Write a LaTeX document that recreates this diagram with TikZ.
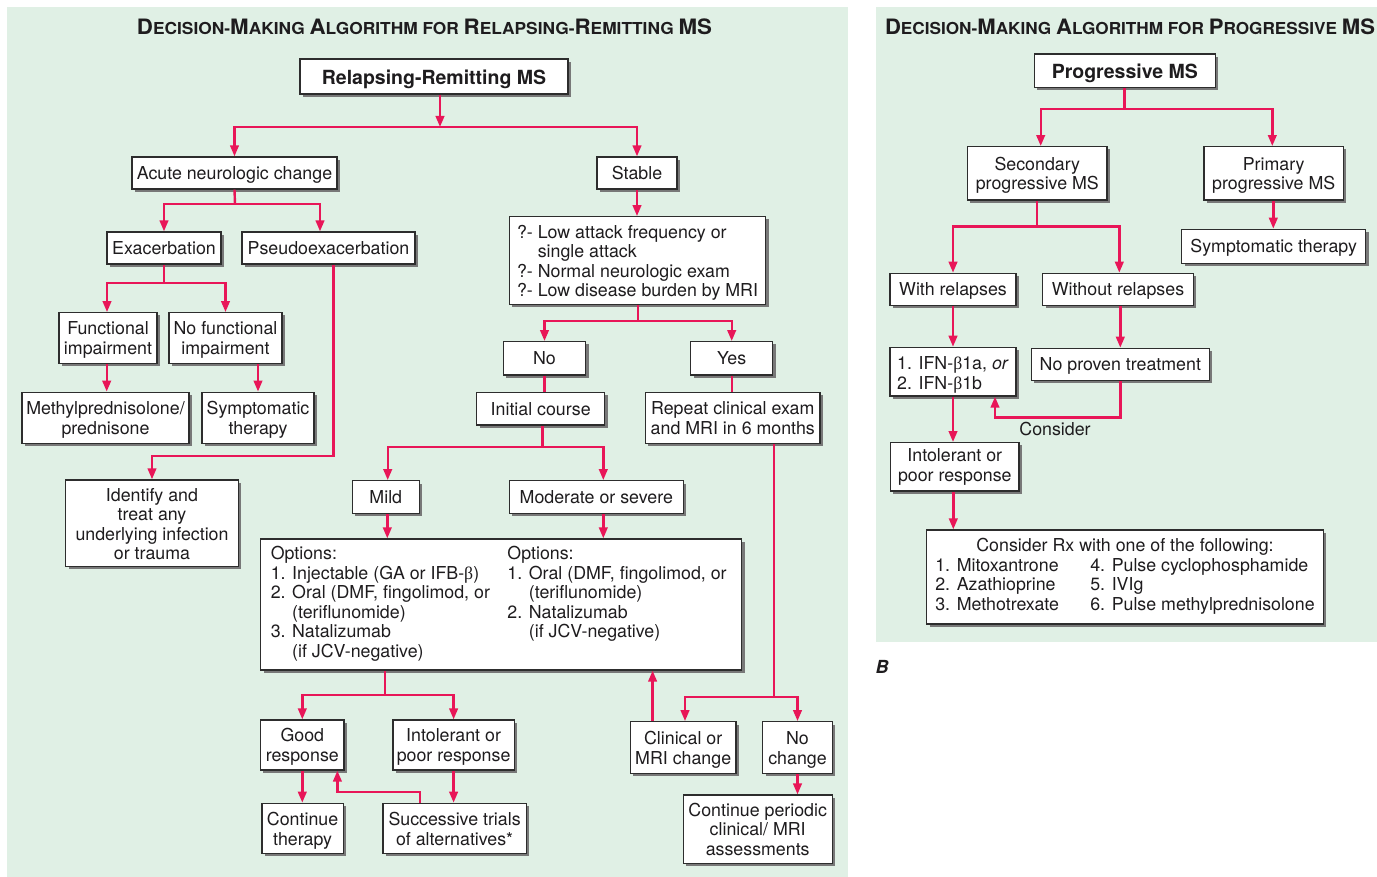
\documentclass[tikz,border=0pt]{standalone}
\usepackage{fontspec}
\setmainfont{TeX Gyre Heros}
\newfontfamily\symf{Liberation Serif}
\usepackage{graphicx}
\usetikzlibrary{arrows.meta,calc}
\definecolor{bggreen}{RGB}{224,240,229}
\definecolor{linered}{RGB}{232,22,88}
\definecolor{bordergray}{RGB}{45,45,45}
\definecolor{shadowgray}{RGB}{120,120,120}
\definecolor{txt}{RGB}{30,28,30}
\newcommand\fsn{\fontsize{17.8}{19.5}\selectfont}
\newcommand\fsb{\fontsize{19.5}{21}\selectfont\bfseries}
\newcommand\bigc[1]{{\fontsize{21.2}{21}\selectfont #1}}
\newcommand\smc[1]{{\fontsize{16.5}{17}\selectfont #1}}
\newcommand\bet{{\symf β}}
\begin{document}
\begin{tikzpicture}[x=1pt,y=-1pt,
  box/.style={draw=bordergray, line width=1.2pt, fill=white, inner sep=0pt,
    text=txt, font=\fsn, align=center,
    execute at begin node={\rule{0pt}{16.6pt}},
    execute at end node={\rule[-3.8pt]{0pt}{3.8pt}},
    preaction={draw=none, fill=shadowgray, transform canvas={xshift=2.8pt,yshift=-2.8pt}}},
  mlh/.style={execute at begin node={\rule{0pt}{#1}}},
  mltwo/.style={mlh=36.5pt},
  mlthree/.style={mlh=56pt},
  mlfour/.style={mlh=76.5pt},
  bbox/.style={box, font=\fsb, execute at begin node={\rule{0pt}{20pt}}},
  lbox/.style={box, align=left},
  conn/.style={draw=linered, line width=2.4pt},
  arr/.style={conn, -{Triangle[length=11pt,width=8.5pt]}},
  ttl/.style={font=\bfseries\fontsize{16.5}{17}\selectfont, text=txt, inner sep=0pt, anchor=base}]
\useasboundingbox (0,0) rectangle (1377,877);
\fill[white] (0,0) rectangle (1377,877);
\fill[bggreen] (7,7) rectangle (848,877);
\fill[bggreen] (876,7) rectangle (1377,642);

% titles
\node[ttl] (t1) at (424.5,35) {\resizebox{575pt}{\height}{\bigc{D}\smc{ECISION-}\bigc{M}\smc{AKING} \bigc{A}\smc{LGORITHM} \smc{FOR} \bigc{R}\smc{ELAPSING-}\bigc{R}\smc{EMITTING} \bigc{MS}}};
\node[ttl] (t2) at (1130,35) {\resizebox{490pt}{\height}{\bigc{D}\smc{ECISION-}\bigc{M}\smc{AKING} \bigc{A}\smc{LGORITHM} \smc{FOR} \bigc{P}\smc{ROGRESSIVE} \bigc{MS}}};

% ---------- left panel nodes ----------
\node[bbox, minimum width=268, minimum height=35] (rr) at (434,76.5) {Relapsing-Remitting MS};
\node[box, minimum width=205, minimum height=32] (acute) at (234.5,173) {Acute neurologic change};
\node[box, minimum width=80, minimum height=32] (stable) at (637,173) {Stable};
\node[box, minimum width=114, minimum height=32] (exac) at (164,248) {Exacerbation};
\node[box, minimum width=173, minimum height=32] (pseudo) at (328.5,248) {Pseudoexacerbation};
\node[box, mltwo, minimum width=98, minimum height=50.6] (func) at (108,338) {Functional\\impairment};
\node[box, mltwo, minimum width=113, minimum height=50.6] (nofunc) at (225.5,338) {No functional\\impairment};
\node[box, mltwo, minimum width=167, minimum height=51] (methyl) at (105.5,417.7) {Methylprednisolone/\\prednisone};
\node[box, mltwo, minimum width=112, minimum height=51] (symp) at (258,417.7) {Symptomatic\\therapy};
\node[box, mlfour, minimum width=172.6, minimum height=86.7] (ident) at (152,523.3) {Identify and\\treat any\\underlying infection\\or trauma};
\node[lbox, mlfour, minimum width=256.4, minimum height=87.6] (q) at (637.5,260.5) {?- Low attack frequency or\\\hphantom{?- }single attack\\?- Normal neurologic exam\\?- Low disease burden by MRI};
\node[box, minimum width=82.4, minimum height=33.3] (no) at (544.5,358.3) {No};
\node[box, minimum width=82, minimum height=33.3] (yes) at (731.7,358.3) {Yes};
\node[box, minimum width=128, minimum height=32.7] (init) at (540.7,408.7) {Initial course};
\node[box, mltwo, minimum width=174.3, minimum height=51] (rep) at (732.8,417.8) {Repeat clinical exam\\and MRI in 6 months};
\node[box, minimum width=67, minimum height=32.6] (mild) at (385.8,497) {Mild};
\node[box, minimum width=174, minimum height=32.6] (mod) at (596.3,497) {Moderate or severe};
\node[box, minimum width=481, minimum height=131] (opt) at (501.2,604.5) {%
\begin{tabular}{@{}p{236.7pt}@{}l@{\hspace{5pt}}}
Options: & Options:\\
1. Injectable (GA or IFB-\bet) & 1. Oral (DMF, fingolimod, or\\
2. Oral (DMF, fingolimod, or & \hphantom{1. }(teriflunomide)\\
\hphantom{2. }(teriflunomide) & 2. Natalizumab\\
3. Natalizumab & \hphantom{2. }(if JCV-negative)\\
\hphantom{3. }(if JCV-negative) & \\
\end{tabular}};
\node[box, mltwo, minimum width=83.3, minimum height=50] (good) at (302.3,745) {Good\\response};
\node[box, mltwo, minimum width=121.2, minimum height=50] (intol) at (453.6,745) {Intolerant or\\poor response};
\node[box, mlh=38pt, minimum width=81.4, minimum height=50] (cont) at (302.6,828.3) {Continue\\therapy};
\node[box, mlh=37.5pt, minimum width=143.2, minimum height=50] (succ) at (454.6,828.3) {Successive trials\\of alternatives*};
\node[box, mlh=37.5pt, minimum width=105.7, minimum height=51.6] (clin) at (683.2,747.5) {Clinical or\\MRI change};
\node[box, mlh=37.5pt, minimum width=69.5, minimum height=51.6] (nochg) at (797.5,747.5) {No\\change};
\node[box, mlthree, minimum width=149, minimum height=68.3] (cpa) at (757.7,829.2) {Continue periodic\\clinical/ MRI\\assessments};

% ---------- left panel connectors ----------
\coordinate (j1) at (440,127);
\draw[arr] (rr.south -| j1) -- (j1);
\draw[arr] (j1) -| (acute.north);
\draw[arr] (j1) -| (stable.north);
\coordinate (j2) at (235,204);
\draw[conn] (acute.south) -- (j2);
\draw[arr] (j2) -| (exac.north);
\draw[arr] (j2) -| ([xshift=-8.5pt]pseudo.north);
\coordinate (j3) at (164,283);
\draw[conn] (exac.south) -- (j3);
\draw[arr] (j3) -| ([xshift=-1pt]func.north);
\draw[arr] (j3) -| (nofunc.north);
\draw[arr] ([xshift=-1.3pt]func.south) -- ([xshift=-1.3pt]func.south |- methyl.north);
\draw[arr] (nofunc.south -| symp.north) -- (symp.north);
\coordinate (j4) at (333.3,455.7);
\draw[arr] (pseudo.south -| j4) -- (j4) -| (ident.north);
\draw[arr] (stable.south) -- (stable.south |- q.north);
\coordinate (j5) at (638,321);
\draw[conn] (q.south -| j5) -- (j5);
\draw[arr] (j5) -| (no.north);
\draw[arr] (j5) -| (yes.north);
\draw[conn] (no.south) -- (no.south |- init.north);
\draw[conn] (yes.south) -- (yes.south |- rep.north);
\coordinate (j6) at (542.3,447);
\draw[conn] (init.south -| j6) -- (j6);
\draw[arr] (j6) -| ([xshift=1.9pt]mild.north);
\draw[arr] (j6) -| ([xshift=7pt]mod.north);
\draw[arr] ([xshift=1.5pt]mild.south) -- ([xshift=1.5pt]mild.south |- opt.north);
\draw[arr] ([xshift=7pt]mod.south) -- ([xshift=7pt]mod.south |- opt.north);
\coordinate (j7) at (385,695);
\draw[conn] (opt.south -| j7) -- (j7);
\draw[arr] (j7) -| (good.north);
\draw[arr] (j7) -| (intol.north);
\draw[arr] (good.south) -- (good.south |- cont.north);
\draw[arr] (intol.south) -- (intol.south |- succ.north);
\coordinate (j8) at (337.4,791.7);
\coordinate (j8b) at (419.7,791.7);
\draw[arr] (succ.north -| j8b) -- (j8b) -- (j8) -- (j8 |- good.south);
\coordinate (j9) at (774,696.7);
\draw[conn] (rep.south -| j9) -- (j9);
\draw[arr] (j9) -| ([xshift=1.8pt]clin.north);
\draw[arr] (j9) -| (nochg.north);
\coordinate (j10) at (652.6,700);
\draw[arr] (clin.north -| j10) -- (opt.south -| j10);
\draw[arr] (nochg.south) -- (nochg.south |- cpa.north);

% ---------- right panel nodes ----------
\node[bbox, minimum width=181, minimum height=33.3] (prog) at (1124.8,70.7) {Progressive MS};
\node[box, mltwo, minimum width=139.3, minimum height=53.3] (sec) at (1037.3,173.3) {Secondary\\progressive MS};
\node[box, mltwo, minimum width=139.3, minimum height=53.3] (prim) at (1273.7,173.3) {Primary\\progressive MS};
\node[box, minimum width=184, minimum height=34] (symp2) at (1273.7,246.3) {Symptomatic therapy};
\node[box, minimum width=126, minimum height=32.4] (with) at (953,289.5) {With relapses};
\node[box, minimum width=150.6, minimum height=32.4] (without) at (1118,289.5) {Without relapses};
\node[lbox, mlh=38.5pt, minimum width=126, minimum height=48.7] (ifn) at (953,371.7) {1. IFN-\bet1a, \textit{or}\\2. IFN-\bet1b};
\node[box, minimum width=178, minimum height=32.4] (noproven) at (1120.3,364.5) {No proven treatment};
\node[box, minimum width=128.3, minimum height=48.3] (intol2) at (954.8,466.8) {Intolerant or\\poor response};
\node[box, minimum width=396.6, minimum height=94] (rx) at (1125,577) {%
\begin{tabular}{@{}p{155pt}@{}l@{}}
\multicolumn{2}{c}{Consider Rx with one of the following:}\\
1. Mitoxantrone & 4. Pulse cyclophosphamide\\
2. Azathioprine & 5. IVIg\\
3. Methotrexate & 6. Pulse methylprednisolone\\
\end{tabular}};
\node[text=txt, font=\fsn, inner sep=0pt] (consider) at (1055,429) {Consider};
\node[text=txt, font=\fontsize{18}{18}\selectfont\bfseries\itshape, inner sep=0pt] (blabel) at (882,666.5) {B};

% ---------- right panel connectors ----------
\coordinate (r1) at (1124.5,109.3);
\draw[conn] (prog.south -| r1) -- (r1);
\draw[arr] (r1) -| ([xshift=3.4pt]sec.north);
\draw[arr] (r1) -| ([xshift=-1.4pt]prim.north);
\draw[arr] ([xshift=-0.4pt]prim.south) -- ([xshift=-0.4pt]prim.south |- symp2.north);
\coordinate (r2) at (1036.7,226.7);
\draw[conn] (sec.south -| r2) -- (r2);
\draw[arr] (r2) -| (with.north);
\draw[arr] (r2) -| ([xshift=1.3pt]without.north);
\draw[arr] (with.south) -- (with.south |- ifn.north);
\draw[arr] (without.south -| noproven.north) -- (noproven.north);
\coordinate (r3) at (995,417.3);
\draw[arr] (noproven.south) |- (r3) -- (r3 |- ifn.south);
\draw[arr] (ifn.south) -- (ifn.south |- intol2.north);
\draw[arr] ([xshift=-1.5pt]intol2.south) -- ([xshift=-1.5pt]intol2.south |- rx.north);
\end{tikzpicture}
\end{document}
